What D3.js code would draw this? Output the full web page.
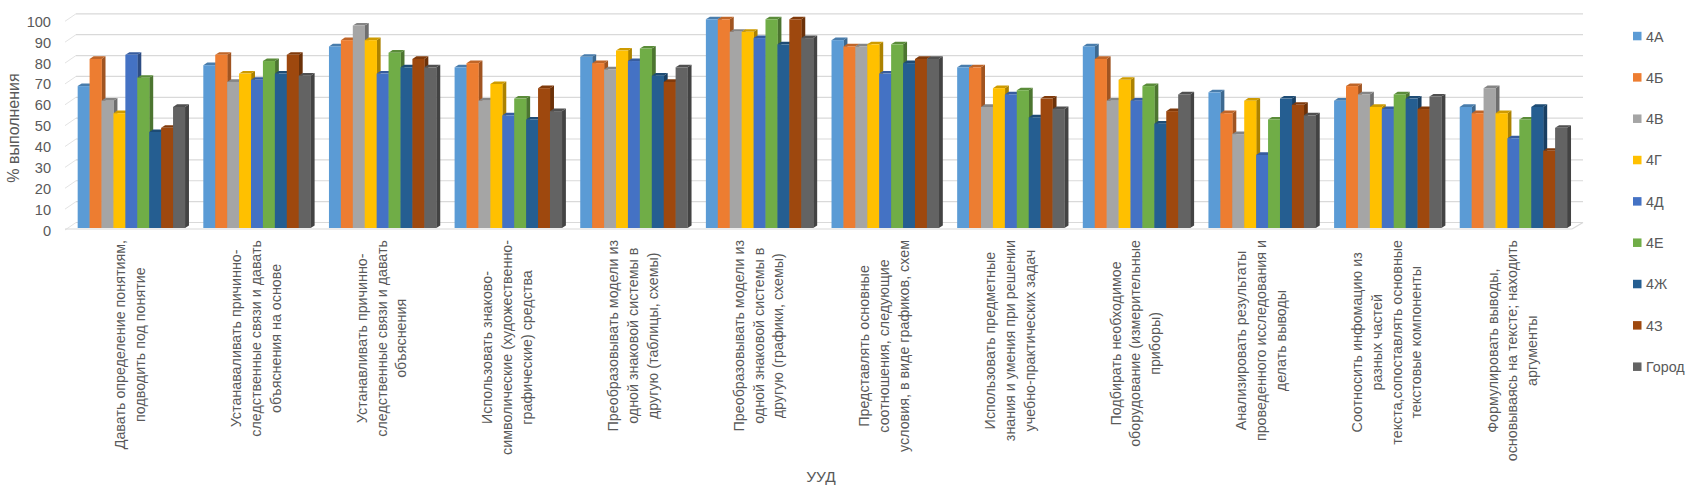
<!DOCTYPE html>
<html>
<head>
<meta charset="utf-8">
<script src="https://cdn.jsdelivr.net/npm/d3@7"></script>
<style>
  html, body { margin: 0; padding: 0; background: #fff; }
  svg { display: block; font-family: "Liberation Sans", Arial, sans-serif; }
</style>
</head>
<body>
<svg id="chart" width="1700" height="494"></svg>
<script>
// ---- data ----
const categories = [
  "Давать определение понятиям,\nподводить под понятие",
  "Устанаваливать причинно-\nследственные связи и давать\nобъяснения на основе",
  "Устанавливать причинно-\nследственные связи и давать\nобъяснения",
  "Использовать знаково-\nсимволические (художественно-\nграфические) средства",
  "Преобразовывать модели из\nодной знаковой системы в\nдругую (таблицы, схемы)",
  "Преобразовывать модели из\nодной знаковой системы в\nдругую (графики, схемы)",
  "Представлять основные\nсоотношения, следующие\nусловия, в виде графиков, схем",
  "Использовать предметные\nзнания и умения при решении\nучебно-практических задач",
  "Подбирать необходимое\nоборудование (измерительные\nприборы)",
  "Анализировать результаты\nпроведенного исследования и\nделать выводы",
  "Соотносить инфомацию из\nразных частей\nтекста,сопоставлять основные\nтекстовые компоненты",
  "Формулировать выводы,\nосновываясь на тексте; находить\nаргументы"
];
const seriesNames = ["4А", "4Б", "4В", "4Г", "4Д", "4Е", "4Ж", "4З", "Город"];
const s4A    = [68, 78, 87, 77, 82, 100, 90, 77, 87, 65, 61, 58];
const s4B    = [81, 83, 90, 79, 79, 100, 87, 77, 81, 55, 68, 55];
const s4V    = [61, 70, 97, 61, 76, 94, 87, 58, 61, 45, 64, 67];
const s4G    = [55, 74, 90, 69, 85, 94, 88, 67, 71, 61, 58, 55];
const s4D    = [83, 71, 74, 54, 80, 91, 74, 64, 61, 35, 57, 43];
const s4E    = [72, 80, 84, 62, 86, 100, 88, 66, 68, 52, 64, 52];
const s4Zh   = [46, 74, 77, 52, 73, 88, 79, 53, 50, 62, 62, 58];
const s4Z    = [48, 83, 81, 67, 70, 100, 81, 62, 56, 59, 57, 37];
const sCity  = [58, 73, 77, 56, 77, 91, 81, 57, 64, 54, 63, 48];
const seriesValues = [s4A, s4B, s4V, s4G, s4D, s4E, s4Zh, s4Z, sCity];
const seriesColors = ["#5B9BD5", "#ED7D31", "#A5A5A5", "#FFC000", "#4472C4", "#70AD47", "#255E91", "#9E480E", "#636363"];
const yTicks = [0, 10, 20, 30, 40, 50, 60, 70, 80, 90, 100];
const yTitle = "% выполнения";
const xTitle = "УУД";

// ---- layout ----
const svg = d3.select("#chart");
const textColor = "#595959";
const fontSize = 14.3;
const depthX = 4, depthY = 2.6;          // bar depth projection
const wallX = 11, wallY = 7.5;           // wall/floor depth projection

const x0 = d3.scaleBand().domain(d3.range(categories.length))
  .range([68.5, 1576.2]).paddingInner(0.146).paddingOuter(0.073);
const x1 = d3.scaleBand().domain(d3.range(seriesNames.length))
  .range([0, x0.bandwidth()]).padding(0);
const yFront = d3.scaleLinear().domain([0, 100]).range([228, 19.3]);
const yBack = d3.scaleLinear().domain([0, 100]).range([222.5, 13.8]);
const wallLeft = 65, backLeft = wallLeft + wallX, backRight = 1583;

// gridlines on back wall + left diagonals
const grid = svg.append("g");
yTicks.forEach(t => {
  const yb = yBack(t);
  grid.append("line").attr("x1", backLeft).attr("x2", backRight)
    .attr("y1", yb).attr("y2", yb).attr("stroke", "#d9d9d9").attr("stroke-width", 1.2);
  grid.append("line").attr("x1", wallLeft).attr("y1", yb + wallY)
    .attr("x2", backLeft).attr("y2", yb).attr("stroke", "#e3e3e3").attr("stroke-width", 1);
});
// floor front edge
grid.append("line").attr("x1", wallLeft).attr("x2", backRight - wallX)
  .attr("y1", yFront(0) + 1).attr("y2", yFront(0) + 1)
  .attr("stroke", "#d9d9d9").attr("stroke-width", 1.2);
grid.append("line").attr("x1", backRight - wallX).attr("y1", yFront(0) + 1)
  .attr("x2", backRight).attr("y2", yBack(0)).attr("stroke", "#d9d9d9").attr("stroke-width", 1.2);

// y tick labels
svg.append("g").selectAll("text").data(yTicks).join("text")
  .attr("x", 51).attr("y", d => yBack(d) + wallY + 0.5)
  .attr("text-anchor", "end").attr("dominant-baseline", "central")
  .attr("fill", textColor).attr("font-size", 14.6).text(d => d);

// bars (3D)
const bars = svg.append("g");
categories.forEach((c, ci) => {
  seriesNames.forEach((s, si) => {
    const v = seriesValues[si][ci];
    const col = d3.color(seriesColors[si]);
    const x = x0(ci) + x1(si), w = x1.bandwidth();
    const yt = yFront(v), yb = yFront(0);
    const g = bars.append("g");
    g.append("path").attr("d",
      `M${x + w},${yt} L${x + w + depthX},${yt - depthY} L${x + w + depthX},${yb - depthY} L${x + w},${yb} Z`)
      .attr("fill", col.darker(1.1));
    g.append("path").attr("d",
      `M${x},${yt} L${x + depthX},${yt - depthY} L${x + w + depthX},${yt - depthY} L${x + w},${yt} Z`)
      .attr("fill", col.darker(0.6));
    g.append("rect").attr("x", x).attr("y", yt).attr("width", w + 0.3).attr("height", yb - yt)
      .attr("fill", seriesColors[si]);
  });
});

// category labels (rotated, multi-line, top-aligned)
const lab = svg.append("g");
const lineStep = 19.8, labelTop = 240;
categories.forEach((c, ci) => {
  const lines = c.split("\n");
  const cx = x0(ci) + x0.bandwidth() / 2 - 1;
  const g = lab.append("g");
  const texts = lines.map((ln, j) => g.append("text")
    .attr("text-anchor", "middle").attr("dominant-baseline", "central")
    .attr("fill", textColor).attr("font-size", fontSize).text(ln));
  const maxLen = d3.max(texts, t => t.node().getComputedTextLength());
  texts.forEach((t, j) => {
    const lx = cx + (j - (lines.length - 1) / 2) * lineStep;
    t.attr("transform", `translate(${lx},${labelTop + maxLen / 2}) rotate(-90)`);
  });
});

// axis titles
svg.append("text").attr("transform", "translate(13,128) rotate(-90)")
  .attr("text-anchor", "middle").attr("dominant-baseline", "central")
  .attr("fill", textColor).attr("font-size", 16).text(yTitle);
svg.append("text").attr("x", 821).attr("y", 476)
  .attr("text-anchor", "middle").attr("dominant-baseline", "central")
  .attr("fill", textColor).attr("font-size", 15.5).text(xTitle);

// legend
const leg = svg.append("g");
seriesNames.forEach((s, i) => {
  const y = 36 + i * 41.33;
  leg.append("rect").attr("x", 1633).attr("y", y - 4.2).attr("width", 8.5).attr("height", 8.5)
    .attr("fill", seriesColors[i]);
  leg.append("text").attr("x", 1646).attr("y", y + 0.5).attr("dominant-baseline", "central")
    .attr("fill", textColor).attr("font-size", 14.3).text(s);
});
</script>
</body>
</html>
